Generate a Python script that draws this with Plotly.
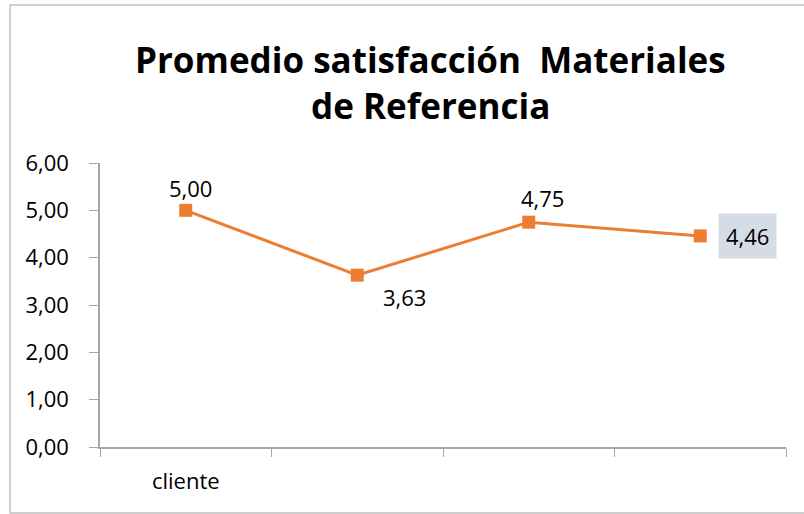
import plotly.graph_objects as go

categories = ["cliente", " ", "  ", "   "]
values = [5.00, 3.63, 4.75, 4.46]
y_ticks = [0, 1, 2, 3, 4, 5, 6]
y_tick_labels = ["0,00", "1,00", "2,00", "3,00", "4,00", "5,00", "6,00"]
title_lines = ["Promedio satisfacción&nbsp; Materiales", "de Referencia"]

orange = "#ED7D31"
font_family = "Open Sans, sans-serif"

W, H = 804, 514
L, R, T, B = 100, 18, 163, 67
pw, ph = W - L - R, H - T - B

fig = go.Figure()
fig.add_trace(go.Scatter(
    x=categories, y=values, mode="lines+markers",
    line=dict(color=orange, width=3),
    marker=dict(symbol="square", size=13, color=orange),
    showlegend=False, cliponaxis=False, hoverinfo="skip",
))

def fmt(v):
    return f"{v:.2f}".replace(".", ",")

offsets = [(5, 22, None), (47, -22, None), (14, 24, None), (47, 0, "#D6DCE5")]
for cat, v, (dx, dy, bg) in zip(categories, values, offsets):
    fig.add_annotation(
        x=cat, y=v, xref="x", yref="y", text=fmt(v), showarrow=False,
        xshift=dx, yshift=dy, font=dict(size=22, color="#000000", family=font_family),
        bgcolor=bg if bg else "rgba(0,0,0,0)", borderpad=7 if bg else 0,
    )

for i, line in enumerate(title_lines):
    fig.add_annotation(
        x=(430 - L) / pw, y=(H - B - (59 + 47 * i)) / ph, xref="paper", yref="paper",
        text=f"<b>{line}</b>", showarrow=False, xanchor="center", yanchor="middle",
        font=dict(size=35, color="#000000", family=font_family),
    )

# chart border
fig.add_shape(type="rect", xref="paper", yref="paper",
              x0=(10 - L) / pw, x1=(840 - L) / pw,
              y0=(H - B - 513) / ph, y1=(H - B - 5) / ph,
              line=dict(color="#BFBFBF", width=1.5), layer="below")

fig.update_layout(
    width=W, height=H, margin=dict(l=L, r=R, t=T, b=B, autoexpand=False),
    paper_bgcolor="white", plot_bgcolor="white",
    font=dict(family=font_family, color="#000000"),
    xaxis=dict(
        type="category", tickson="boundaries", ticks="outside", ticklen=8,
        tickcolor="#A6A6A6", showline=True, linecolor="#A6A6A6", linewidth=1.5,
        showgrid=False, zeroline=False, tickfont=dict(size=22),
        ticklabelstandoff=14, range=[-0.5, 3.5], automargin=False,
    ),
    yaxis=dict(
        range=[0, 6], tickvals=y_ticks, ticktext=y_tick_labels, ticks="outside",
        ticklen=9, tickcolor="#A6A6A6", showline=True, linecolor="#A6A6A6",
        linewidth=1.5, showgrid=False, zeroline=False, tickfont=dict(size=22),
        ticklabelstandoff=16, automargin=False,
    ),
)
fig.write_html("out.html", config={"displayModeBar": False},
               post_script="document.body.style.margin='0';")
